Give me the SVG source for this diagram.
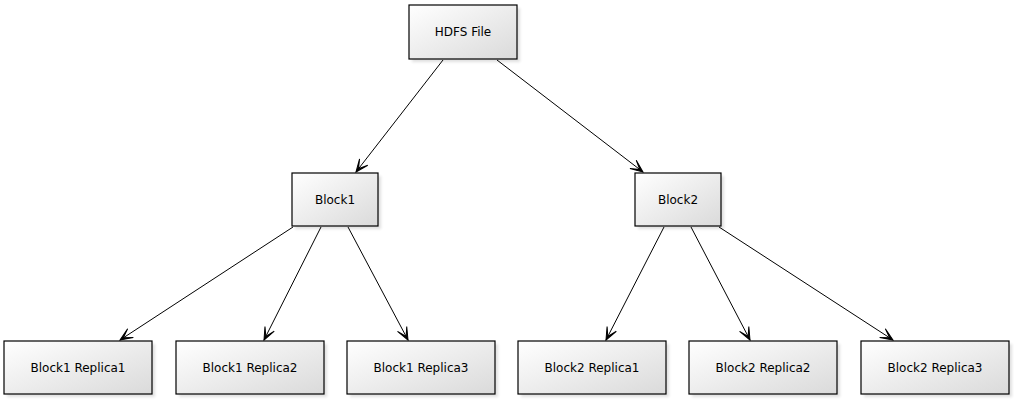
<svg xmlns="http://www.w3.org/2000/svg" width="1014" height="400" viewBox="0 0 1014 400">
<style>
.box{fill:url(#g);stroke:#000;stroke-width:1.2}
.sh{fill:#000;opacity:0.12;filter:url(#blur)}
text{font-family:"DejaVu Sans",sans-serif;font-size:12px;fill:#000;text-anchor:middle;dominant-baseline:central}
.c line{stroke:#000;stroke-width:1;marker-end:url(#a)}
</style>
<defs>
<linearGradient id="g" x1="0" y1="0" x2="1" y2="1">
<stop offset="0" stop-color="#ffffff"/>
<stop offset="1" stop-color="#dadada"/>
</linearGradient>
<filter id="blur" x="-10%" y="-10%" width="130%" height="130%"><feGaussianBlur stdDeviation="1.5"/></filter>
<marker id="a" viewBox="0 0 14 12" refX="13" refY="6" markerWidth="14" markerHeight="12" markerUnits="userSpaceOnUse" orient="auto">
<path d="M13,6 L0.5,0.8 L9,6 L0.5,11.2 z" fill="#000" stroke="#000" stroke-width="1" stroke-linejoin="miter"/>
</marker>
</defs>
<g class="c" id="connectors">
<line x1="443" y1="60" x2="356" y2="172"/>
<line x1="497" y1="60" x2="643" y2="172"/>
<line x1="293" y1="227" x2="120" y2="340"/>
<line x1="321" y1="227" x2="264" y2="340"/>
<line x1="348" y1="227" x2="408" y2="340"/>
<line x1="664" y1="227" x2="606" y2="340"/>
<line x1="691" y1="227" x2="750" y2="340"/>
<line x1="719" y1="227" x2="893" y2="340"/>
</g>
<g id="hdfs"><rect class="sh" x="412" y="8" width="108" height="54"/><rect class="box" x="409" y="5" width="108" height="54"/><text x="463" y="32">HDFS File</text></g>
<g id="block1"><rect class="sh" x="295" y="176" width="86" height="53"/><rect class="box" x="292" y="173" width="86" height="53"/><text x="335" y="199.5">Block1</text></g>
<g id="block2"><rect class="sh" x="638" y="176" width="86" height="53"/><rect class="box" x="635" y="173" width="86" height="53"/><text x="678" y="199.5">Block2</text></g>
<g id="b1r1"><rect class="sh" x="7" y="344" width="148" height="53"/><rect class="box" x="4" y="341" width="148" height="53"/><text x="78" y="367.5">Block1 Replica1</text></g>
<g id="b1r2"><rect class="sh" x="179" y="344" width="148" height="53"/><rect class="box" x="176" y="341" width="148" height="53"/><text x="250" y="367.5">Block1 Replica2</text></g>
<g id="b1r3"><rect class="sh" x="350" y="344" width="148" height="53"/><rect class="box" x="347" y="341" width="148" height="53"/><text x="421" y="367.5">Block1 Replica3</text></g>
<g id="b2r1"><rect class="sh" x="521" y="344" width="148" height="53"/><rect class="box" x="518" y="341" width="148" height="53"/><text x="592" y="367.5">Block2 Replica1</text></g>
<g id="b2r2"><rect class="sh" x="692" y="344" width="148" height="53"/><rect class="box" x="689" y="341" width="148" height="53"/><text x="763" y="367.5">Block2 Replica2</text></g>
<g id="b2r3"><rect class="sh" x="864" y="344" width="148" height="53"/><rect class="box" x="861" y="341" width="148" height="53"/><text x="935" y="367.5">Block2 Replica3</text></g>
</svg>
